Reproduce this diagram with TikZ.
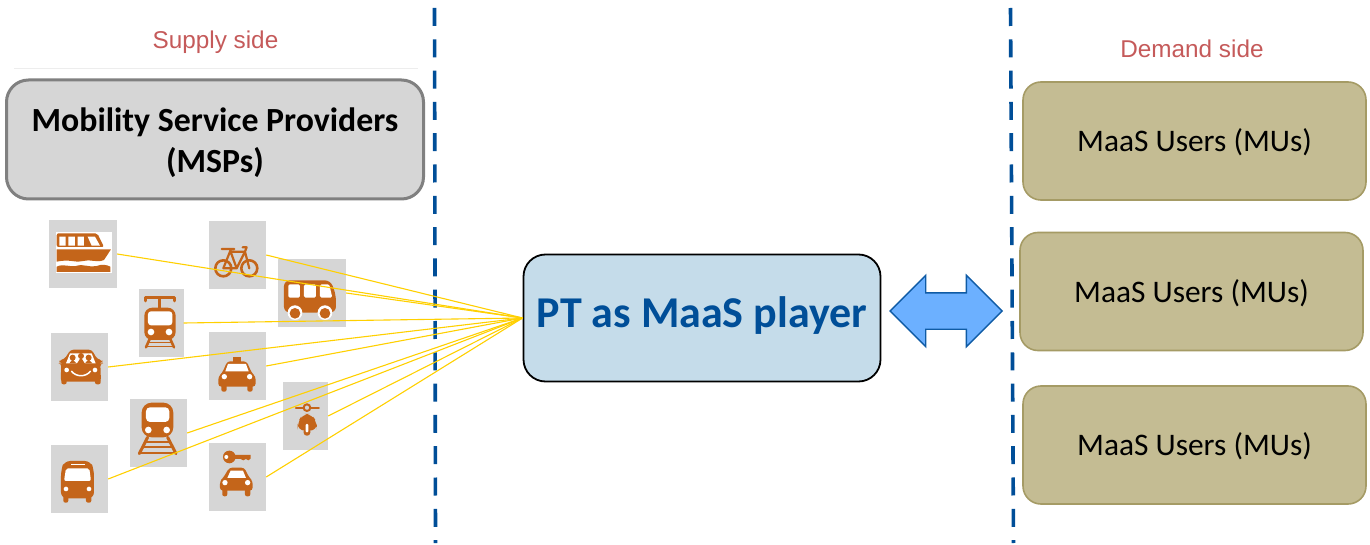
\documentclass[tikz,border=0pt]{standalone}
\usepackage{fontspec}
\usetikzlibrary{shapes.arrows}
\setmainfont{Carlito}
\newfontfamily\helv{Liberation Sans}
\definecolor{iconc}{HTML}{C4651A}
\definecolor{tilec}{HTML}{D6D6D6}
\definecolor{blued}{HTML}{004E98}
\definecolor{linky}{HTML}{FFD000}
\definecolor{olivef}{HTML}{C4BC93}
\definecolor{oliveb}{HTML}{A59B65}
\definecolor{sidec}{HTML}{C55A5A}
\definecolor{ptfill}{HTML}{C5DCEA}
\definecolor{arrowf}{HTML}{6CB0FF}
\definecolor{arrowb}{HTML}{0F5BA5}
\tikzset{
 tile/.style={fill=tilec,draw=none,inner sep=0pt,minimum width=#1,minimum height=68pt},
 sideline/.style={draw=blued,line width=3.6pt,dash pattern=on 18pt off 13.3pt},
 userbox/.style={draw=oliveb,line width=1.6pt,fill=olivef,rounded corners=18pt,minimum width=343pt,minimum height=118pt,inner sep=0pt,text height=28pt,text depth=7pt,font=\fontsize{31.4}{36}\selectfont},
 sidelabel/.style={inner sep=0pt,anchor=base,text=sidec,font=\helv\fontsize{24.3}{28}\selectfont},
 feed/.style={draw=linky,line width=1.1pt},
 ic/.style={fill=iconc,draw=none},
 ics/.style={draw=iconc,line cap=round,line join=round},
 wh/.style={fill=white,draw=none}
}
\begin{document}
\begin{tikzpicture}[x=1pt,y=-1pt]
\useasboundingbox (0,0) rectangle (1370,545);
\fill[white] (0,0) rectangle (1370,545);
% side labels
\node[sidelabel] (supply) at (215.5,48.3) {Supply side};
\node[sidelabel] (demand) at (1192,57.5) {Demand side};
\coordinate (ruleL) at (14,68.5);
\coordinate (ruleR) at (418,68.5);
\draw[black!7,line width=.6pt] (ruleL) -- (ruleR);
% dashed separators
\coordinate (la) at (434.5,8);
\coordinate (lb) at (435.5,543);
\coordinate (ra) at (1010.5,8);
\coordinate (rb) at (1013.5,543);
\draw[sideline] (la) -- (lb);
\draw[sideline] (ra) -- (rb);
% tiles
\node[tile=68pt]   (boat)    at (83,254) {};
\node[tile=57pt]   (bike)    at (237.5,255) {};
\node[tile=68pt]   (bus)     at (312,293) {};
\node[tile=45pt]   (tram)    at (161,323) {};
\node[tile=57pt]   (carpool) at (79.5,367) {};
\node[tile=57pt]   (taxi)    at (237.5,366) {};
\node[tile=57pt]   (train)   at (158.5,433) {};
\node[tile=45pt]   (scooter) at (305.5,416) {};
\node[tile=57pt]   (minibus) at (79.5,479) {};
\node[tile=57pt]   (carkey)  at (237.5,477) {};
% icons, drawn in 3x units
\begin{scope}[x=.3333pt,y=-.3333pt,yshift=-200pt]
% boat
\fill[white] (168,96) rectangle (335,218);
\fill[ic,rounded corners=2pt] (170,100) -- (292,100) -- (312,141) -- (170,141) -- cycle;
\fill[wh] (178,110) rectangle (197,137) (205,110) rectangle (225,137) (233,110) rectangle (252,137);
\fill[wh] (263,110) -- (285,110) -- (300,137) -- (275,137) -- cycle;
\fill[ic] (170,148) -- (333,148) -- (312,180) .. controls (290,190) and (270,176) .. (250,183) .. controls (230,190) and (210,176) .. (170,185) -- cycle;
\fill[ic] (170,200) .. controls (190,190) and (210,202) .. (228,198) .. controls (250,190) and (270,204) .. (290,198) .. controls (305,192) and (320,194) .. (331,200) -- (331,216) -- (170,216) -- cycle;
% bike
\draw[ics,line width=2.6pt] (670,205) circle (24) (748,205) circle (24);
\draw[ics,line width=2.2pt] (670,205) -- (692,150) (665,147) -- (703,147) (692,155) -- (735,155) (670,205) -- (710,205) -- (735,155) (692,155) -- (710,205) (728,142) -- (740,142) -- (735,155) -- (748,205);
% bus
\fill[ic,rounded corners=6pt] (852,241) -- (992,241) -- (1008,285) -- (1008,338) -- (852,338) -- cycle;
\fill[wh,rounded corners=1.5pt] (865,253) rectangle (900,293) (912,253) rectangle (948,293) (960,253) -- (988,253) -- (997,293) -- (960,293) -- cycle;
\fill[wh] (885,338) circle (22) (975,338) circle (22);
\fill[ic] (885,340) circle (16) (975,340) circle (16);
% tram
\draw[ics,line width=3pt] (437,303) -- (437,293) -- (525,293) -- (525,303) (480,295) -- (480,325);
\fill[ic,rounded corners=8pt] (433,323) rectangle (527,420);
\fill[wh,rounded corners=3pt] (444,334) rectangle (517,376);
\fill[wh] (453,396) circle (10) (507,396) circle (10);
\draw[ics,line width=2.6pt] (450,415) -- (438,442) (510,415) -- (522,442);
\draw[iconc,line width=1.6pt] (446,428) -- (514,428) (440,440) -- (520,440);
% carpool
\fill[ic,rounded corners=3pt] (212,449) -- (275,449) -- (292,478) -- (307,480) -- (307,490) -- (301,490) -- (303,545) -- (182,545) -- (184,490) -- (178,490) -- (178,480) -- (193,478) -- cycle;
\fill[ic,rounded corners=2pt] (184,535) rectangle (200,553) (285,535) rectangle (302,553);
\fill[wh] (210,460) -- (275,460) -- (287,490) -- (198,490) -- cycle;
\fill[ic] (218,473) circle (9) (243,468) circle (9) (266,473) circle (9);
\fill[ic] (208,490) -- (218,478) -- (229,490) -- cycle (230,492) -- (243,472) -- (255,492) -- cycle (255,490) -- (266,478) -- (277,490) -- cycle;
\fill[wh] (200,510) circle (7) (285,510) circle (7);
\draw[white,line width=1.5pt] (214,513) .. controls (228,532) and (258,532) .. (272,513);
% taxi
\fill[ic] (700,472) rectangle (722,486);
\fill[ic,rounded corners=3pt] (682,484) -- (740,484) -- (755,518) -- (767,530) -- (767,560) -- (655,560) -- (655,530) -- (667,518) -- cycle;
\fill[ic,rounded corners=2pt] (664,552) rectangle (680,575) (742,552) rectangle (758,575);
\fill[wh] (684,492) -- (738,492) -- (746,514) -- (676,514) -- cycle;
\fill[wh] (673,530) circle (8) (749,530) circle (8);
% train
\fill[ic,rounded corners=10pt] (425,608) rectangle (520,712);
\fill[wh,rounded corners=4pt] (438,622) rectangle (508,666);
\fill[wh] (445,690) circle (10) (500,690) circle (10);
\draw[ics,line width=3pt] (443,712) -- (418,761) (503,712) -- (528,761);
\draw[iconc,line width=2pt] (434,726) -- (512,726) (428,742) -- (518,742) (420,759) -- (526,759);
% scooter
\draw[ics,line width=2pt] (888,623) -- (957,623);
\fill[tilec] (921,623) circle (11);
\draw[iconc,line width=2pt] (921,623) circle (10);
\fill[ic,rounded corners=7pt] (908,642) -- (935,642) -- (951,668) -- (951,692) -- (893,692) -- (893,668) -- cycle;
\fill[ic,rounded corners=3pt] (911,685) rectangle (931,707);
\fill[wh,rounded corners=1pt] (917,672) rectangle (925,697);
% minibus
\fill[ic,rounded corners=6pt] (193,783) -- (272,783) -- (282,810) -- (282,895) -- (183,895) -- (183,810) -- cycle;
\fill[ic,rounded corners=2pt] (190,885) rectangle (205,908) (258,885) rectangle (274,908);
\fill[wh,rounded corners=2pt] (198,805) -- (268,805) -- (273,843) -- (192,843) -- cycle;
\fill[wh] (212,792) rectangle (255,796);
\fill[wh] (198,867) circle (7) (267,867) circle (7);
% car with key
\fill[ic] (688,771) circle (19);
\fill[ic] (700,765) -- (752,765) -- (752,776) -- (745,781) -- (738,777) -- (730,781) -- (722,777) -- (700,777) -- cycle;
\fill[wh] (679,771) circle (6);
\fill[ic,rounded corners=3pt] (688,803) -- (733,803) -- (748,833) -- (758,843) -- (758,872) -- (660,872) -- (660,843) -- (670,833) -- cycle;
\fill[ic,rounded corners=2pt] (667,865) rectangle (682,889) (735,865) rectangle (751,889);
\fill[wh] (692,812) -- (729,812) -- (738,834) -- (682,834) -- cycle;
\fill[wh] (675,848) circle (8) (743,848) circle (8);
\end{scope}
% main boxes
\node[draw=black!50,line width=3pt,fill=tilec,rounded corners=22pt,minimum width=417pt,minimum height=119pt,inner sep=0pt,align=center,font=\bfseries\fontsize{33.8}{41.5}\selectfont] (msp) at (215,139.5) {\rule{0pt}{30pt}Mobility Service Providers\\(MSPs)};
\node[draw=black,line width=1.8pt,fill=ptfill,minimum width=357pt,minimum height=127pt,rounded corners=22pt,inner sep=0pt,text=blued,text height=30pt,text depth=10.6pt,font=\bfseries\fontsize{44}{50}\selectfont] (pt) at (702,318) {PT as MaaS player};
\node[userbox] (mu1) at (1194.5,141) {MaaS Users (MUs)};
\node[userbox] (mu2) at (1191.5,291.5) {MaaS Users (MUs)};
\node[userbox] (mu3) at (1194.5,445) {MaaS Users (MUs)};
% feeds
\foreach \n in {boat,bike,bus,tram,carpool,taxi,train,scooter,minibus,carkey}
  \draw[feed] (\n.east) -- (pt.west);
% double arrow
\node[double arrow,double arrow head extend=17.5pt,double arrow tip angle=90,minimum height=112pt,minimum width=70pt,inner sep=0pt,fill=arrowf,draw=arrowb,line width=1.4pt] (exchange) at (946,311) {\rule{0pt}{35pt}};
\end{tikzpicture}
\end{document}
